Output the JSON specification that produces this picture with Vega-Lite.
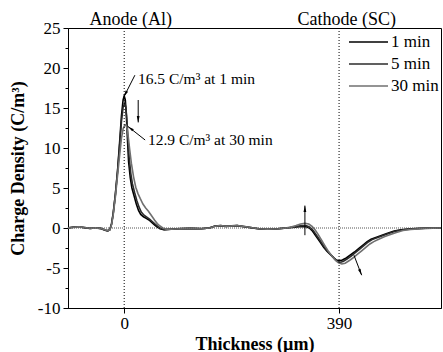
{
"$schema": "https://vega.github.io/schema/vega-lite/v6.json",
"width": 373, "height": 280,
"autosize": {"type": "none"},
"padding": {"left": 68, "top": 28, "right": 2, "bottom": 44},
"background": "white",
"config": {
  "font": "Liberation Serif",
  "view": {"stroke": "black", "strokeWidth": 1},
  "text": {"font": "Liberation Serif"},
  "legend": {"labelFont": "Liberation Serif"},
  "axis": {"grid": false, "domainColor": "black", "tickColor": "black", "labelColor": "black", "titleColor": "black", "labelFont": "Liberation Serif", "titleFont": "Liberation Serif", "labelFontSize": 17, "titleFontSize": 18, "titleFontWeight": "bold", "labelOverlap": false}
},
"datasets": {
  "curves": [
    {"t":"1 min","x":-102,"y":0},{"t":"1 min","x":-92,"y":0.1},{"t":"1 min","x":-82,"y":0.15},{"t":"1 min","x":-72,"y":0.05},{"t":"1 min","x":-62,"y":-0.05},{"t":"1 min","x":-52,"y":0},{"t":"1 min","x":-42,"y":-0.05},{"t":"1 min","x":-35,"y":-0.25},{"t":"1 min","x":-30,"y":-0.35},{"t":"1 min","x":-26,"y":-0.2},
    {"t":"1 min","x":-23,"y":0.5},{"t":"1 min","x":-20,"y":1.8},{"t":"1 min","x":-16,"y":4.2},{"t":"1 min","x":-12,"y":7.2},{"t":"1 min","x":-8,"y":11},{"t":"1 min","x":-5,"y":14},{"t":"1 min","x":-2,"y":16},{"t":"1 min","x":0,"y":16.5},{"t":"1 min","x":2,"y":16},{"t":"1 min","x":4,"y":14},{"t":"1 min","x":6,"y":11},{"t":"1 min","x":8,"y":8.3},{"t":"1 min","x":11,"y":6.3},{"t":"1 min","x":14,"y":5},{"t":"1 min","x":18,"y":4},{"t":"1 min","x":22,"y":3},{"t":"1 min","x":26,"y":2.2},{"t":"1 min","x":30,"y":1.7},{"t":"1 min","x":35,"y":1.4},{"t":"1 min","x":40,"y":1.2},{"t":"1 min","x":45,"y":1},{"t":"1 min","x":50,"y":0.7},{"t":"1 min","x":55,"y":0.4},{"t":"1 min","x":60,"y":0.1},{"t":"1 min","x":65,"y":-0.1},{"t":"1 min","x":72,"y":-0.2},
    {"t":"1 min","x":85,"y":-0.15},{"t":"1 min","x":100,"y":-0.1},{"t":"1 min","x":120,"y":-0.05},{"t":"1 min","x":140,"y":-0.1},{"t":"1 min","x":155,"y":0},{"t":"1 min","x":165,"y":0.25},{"t":"1 min","x":175,"y":0.3},{"t":"1 min","x":185,"y":0.2},{"t":"1 min","x":195,"y":0.25},{"t":"1 min","x":205,"y":0.3},{"t":"1 min","x":215,"y":0.2},{"t":"1 min","x":230,"y":0.05},{"t":"1 min","x":245,"y":-0.1},{"t":"1 min","x":260,"y":-0.15},{"t":"1 min","x":280,"y":-0.1},{"t":"1 min","x":295,"y":0},{"t":"1 min","x":310,"y":0.1},{"t":"1 min","x":322,"y":0.2},{"t":"1 min","x":330,"y":0.15},
    {"t":"1 min","x":336,"y":0},{"t":"1 min","x":342,"y":-0.4},{"t":"1 min","x":348,"y":-1},{"t":"1 min","x":355,"y":-1.7},{"t":"1 min","x":362,"y":-2.4},{"t":"1 min","x":368,"y":-2.9},{"t":"1 min","x":374,"y":-3.3},{"t":"1 min","x":380,"y":-3.7},{"t":"1 min","x":385,"y":-4},{"t":"1 min","x":390,"y":-4.1},{"t":"1 min","x":396,"y":-4},{"t":"1 min","x":403,"y":-3.75},{"t":"1 min","x":410,"y":-3.4},{"t":"1 min","x":418,"y":-3},{"t":"1 min","x":426,"y":-2.55},{"t":"1 min","x":434,"y":-2.1},{"t":"1 min","x":441,"y":-1.7},{"t":"1 min","x":448,"y":-1.4},{"t":"1 min","x":458,"y":-1.15},{"t":"1 min","x":468,"y":-0.9},{"t":"1 min","x":478,"y":-0.65},{"t":"1 min","x":490,"y":-0.38},{"t":"1 min","x":502,"y":-0.22},{"t":"1 min","x":515,"y":-0.12},{"t":"1 min","x":535,"y":-0.05},{"t":"1 min","x":555,"y":0},{"t":"1 min","x":575,"y":0},

    {"t":"5 min","x":-102,"y":0.02},{"t":"5 min","x":-92,"y":0.12},{"t":"5 min","x":-82,"y":0.12},{"t":"5 min","x":-72,"y":0.03},{"t":"5 min","x":-62,"y":-0.07},{"t":"5 min","x":-52,"y":0.02},{"t":"5 min","x":-42,"y":-0.08},{"t":"5 min","x":-35,"y":-0.28},{"t":"5 min","x":-30,"y":-0.35},{"t":"5 min","x":-26,"y":-0.2},
    {"t":"5 min","x":-23,"y":0.5},{"t":"5 min","x":-20,"y":1.8},{"t":"5 min","x":-16,"y":4.2},{"t":"5 min","x":-12,"y":7.1},{"t":"5 min","x":-8,"y":10.6},{"t":"5 min","x":-5,"y":13.3},{"t":"5 min","x":-2,"y":15.1},{"t":"5 min","x":1,"y":15.6},{"t":"5 min","x":3,"y":15.1},{"t":"5 min","x":5,"y":13.4},{"t":"5 min","x":7,"y":11},{"t":"5 min","x":9,"y":8.8},{"t":"5 min","x":12,"y":6.8},{"t":"5 min","x":15,"y":5.5},{"t":"5 min","x":19,"y":4.4},{"t":"5 min","x":23,"y":3.4},{"t":"5 min","x":27,"y":2.6},{"t":"5 min","x":31,"y":2},{"t":"5 min","x":36,"y":1.6},{"t":"5 min","x":41,"y":1.35},{"t":"5 min","x":46,"y":1.1},{"t":"5 min","x":51,"y":0.8},{"t":"5 min","x":56,"y":0.5},{"t":"5 min","x":61,"y":0.2},{"t":"5 min","x":66,"y":-0.05},{"t":"5 min","x":73,"y":-0.2},
    {"t":"5 min","x":85,"y":-0.15},{"t":"5 min","x":100,"y":-0.08},{"t":"5 min","x":120,"y":-0.05},{"t":"5 min","x":140,"y":-0.08},{"t":"5 min","x":155,"y":0.02},{"t":"5 min","x":165,"y":0.25},{"t":"5 min","x":175,"y":0.28},{"t":"5 min","x":185,"y":0.2},{"t":"5 min","x":195,"y":0.28},{"t":"5 min","x":205,"y":0.3},{"t":"5 min","x":215,"y":0.18},{"t":"5 min","x":230,"y":0.03},{"t":"5 min","x":245,"y":-0.12},{"t":"5 min","x":260,"y":-0.15},{"t":"5 min","x":280,"y":-0.08},{"t":"5 min","x":295,"y":0.02},{"t":"5 min","x":310,"y":0.15},{"t":"5 min","x":322,"y":0.3},{"t":"5 min","x":330,"y":0.3},
    {"t":"5 min","x":337,"y":0.1},{"t":"5 min","x":343,"y":-0.3},{"t":"5 min","x":349,"y":-0.9},{"t":"5 min","x":356,"y":-1.6},{"t":"5 min","x":363,"y":-2.35},{"t":"5 min","x":369,"y":-2.9},{"t":"5 min","x":375,"y":-3.35},{"t":"5 min","x":381,"y":-3.8},{"t":"5 min","x":386,"y":-4.15},{"t":"5 min","x":392,"y":-4.3},{"t":"5 min","x":398,"y":-4.15},{"t":"5 min","x":405,"y":-3.85},{"t":"5 min","x":412,"y":-3.5},{"t":"5 min","x":420,"y":-3.05},{"t":"5 min","x":428,"y":-2.6},{"t":"5 min","x":436,"y":-2.15},{"t":"5 min","x":443,"y":-1.75},{"t":"5 min","x":450,"y":-1.45},{"t":"5 min","x":460,"y":-1.2},{"t":"5 min","x":470,"y":-0.95},{"t":"5 min","x":480,"y":-0.7},{"t":"5 min","x":492,"y":-0.42},{"t":"5 min","x":504,"y":-0.25},{"t":"5 min","x":517,"y":-0.14},{"t":"5 min","x":537,"y":-0.06},{"t":"5 min","x":557,"y":0},{"t":"5 min","x":575,"y":0},

    {"t":"30 min","x":-102,"y":0},{"t":"30 min","x":-92,"y":0.08},{"t":"30 min","x":-82,"y":0.14},{"t":"30 min","x":-72,"y":0.06},{"t":"30 min","x":-62,"y":-0.04},{"t":"30 min","x":-52,"y":0.01},{"t":"30 min","x":-42,"y":-0.06},{"t":"30 min","x":-35,"y":-0.22},{"t":"30 min","x":-30,"y":-0.32},{"t":"30 min","x":-26,"y":-0.22},
    {"t":"30 min","x":-23,"y":0.4},{"t":"30 min","x":-20,"y":1.6},{"t":"30 min","x":-16,"y":3.9},{"t":"30 min","x":-12,"y":6.6},{"t":"30 min","x":-8,"y":9.3},{"t":"30 min","x":-5,"y":11.2},{"t":"30 min","x":-2,"y":12.4},{"t":"30 min","x":1,"y":12.85},{"t":"30 min","x":3,"y":12.9},{"t":"30 min","x":5,"y":12.5},{"t":"30 min","x":7,"y":11.6},{"t":"30 min","x":10,"y":9.8},{"t":"30 min","x":13,"y":8.1},{"t":"30 min","x":17,"y":6.4},{"t":"30 min","x":21,"y":5.1},{"t":"30 min","x":25,"y":4.3},{"t":"30 min","x":29,"y":3.7},{"t":"30 min","x":34,"y":3},{"t":"30 min","x":39,"y":2.5},{"t":"30 min","x":44,"y":2.1},{"t":"30 min","x":50,"y":1.5},{"t":"30 min","x":55,"y":1},{"t":"30 min","x":60,"y":0.55},{"t":"30 min","x":65,"y":0.25},{"t":"30 min","x":70,"y":0},{"t":"30 min","x":76,"y":-0.15},
    {"t":"30 min","x":86,"y":-0.15},{"t":"30 min","x":100,"y":-0.1},{"t":"30 min","x":120,"y":-0.04},{"t":"30 min","x":140,"y":-0.1},{"t":"30 min","x":155,"y":0.0},{"t":"30 min","x":165,"y":0.22},{"t":"30 min","x":175,"y":0.32},{"t":"30 min","x":185,"y":0.22},{"t":"30 min","x":195,"y":0.26},{"t":"30 min","x":205,"y":0.32},{"t":"30 min","x":215,"y":0.22},{"t":"30 min","x":230,"y":0.06},{"t":"30 min","x":245,"y":-0.1},{"t":"30 min","x":260,"y":-0.14},{"t":"30 min","x":280,"y":-0.1},{"t":"30 min","x":300,"y":0.05},
    {"t":"30 min","x":312,"y":0.3},{"t":"30 min","x":320,"y":0.5},{"t":"30 min","x":328,"y":0.6},{"t":"30 min","x":335,"y":0.5},{"t":"30 min","x":341,"y":0.2},{"t":"30 min","x":346,"y":-0.2},{"t":"30 min","x":352,"y":-0.8},{"t":"30 min","x":358,"y":-1.5},{"t":"30 min","x":365,"y":-2.3},{"t":"30 min","x":371,"y":-2.95},{"t":"30 min","x":377,"y":-3.5},{"t":"30 min","x":383,"y":-4},{"t":"30 min","x":389,"y":-4.35},{"t":"30 min","x":395,"y":-4.5},{"t":"30 min","x":401,"y":-4.4},{"t":"30 min","x":408,"y":-4.1},{"t":"30 min","x":415,"y":-3.75},{"t":"30 min","x":423,"y":-3.3},{"t":"30 min","x":431,"y":-2.85},{"t":"30 min","x":439,"y":-2.4},{"t":"30 min","x":446,"y":-2},{"t":"30 min","x":453,"y":-1.7},{"t":"30 min","x":462,"y":-1.4},{"t":"30 min","x":472,"y":-1.1},{"t":"30 min","x":482,"y":-0.85},{"t":"30 min","x":494,"y":-0.55},{"t":"30 min","x":506,"y":-0.32},{"t":"30 min","x":520,"y":-0.18},{"t":"30 min","x":540,"y":-0.08},{"t":"30 min","x":560,"y":-0.02},{"t":"30 min","x":575,"y":0}
  ],
  "arrows": [
    {"x":19.4,"y":19.1,"x2":-0.5,"y2":16.4,"dir":207},
    {"x":38,"y":11,"x2":6.7,"y2":12.7,"dir":307},
    {"x":25.4,"y":16,"x2":25.4,"y2":13.2,"dir":180},
    {"x":328,"y":-0.9,"x2":328,"y2":2.8,"dir":0},
    {"x":417,"y":-3.4,"x2":431,"y2":-5.9,"dir":158}
  ],
  "places": [
    {"x":12,"y":26,"label":"Anode (Al)"},
    {"x":404,"y":26,"label":"Cathode (SC)"}
  ],
  "notes": [
    {"x":25,"y":18.6,"label":"16.5 C/m³ at 1 min"},
    {"x":43,"y":11,"label":"12.9 C/m³ at 30 min"}
  ]
},
"layer": [
  {
    "data": {"name": "curves"},
    "mark": {"type": "line", "strokeWidth": 1.6},
    "encoding": {
      "x": {"field": "x", "type": "quantitative", "scale": {"domain": [-102, 575], "nice": false, "zero": false},
        "axis": {"values": [0, 390], "tickCount": 10, "tickSize": 5, "labelPadding": 2, "labelFont": "Liberation Serif", "titleFont": "Liberation Serif", "title": "Thickness (µm)", "titlePadding": 4}},
      "y": {"field": "y", "type": "quantitative", "scale": {"domain": [-10, 25], "nice": false, "zero": false},
        "axis": {"values": [-10, -7.5, -5, -2.5, 0, 2.5, 5, 7.5, 10, 12.5, 15, 17.5, 20, 22.5, 25],
          "tickCount": 20,
          "labelExpr": "datum.value % 5 === 0 ? (datum.value < 0 ? '-' + abs(datum.value) : '' + datum.value) : ''",
          "labelOverlap": false, "labelFont": "Liberation Serif", "titleFont": "Liberation Serif",
          "tickSize": {"condition": {"test": "datum.value % 5 === 0", "value": 5}, "value": 3},
          "labelPadding": 3, "title": "Charge Density (C/m³)", "titlePadding": 10}},
      "color": {"field": "t", "type": "nominal",
        "scale": {"domain": ["1 min", "5 min", "30 min"], "range": ["#000000", "#2b2b2b", "#707070"]},
        "legend": {"orient": "none", "legendX": 280, "legendY": 3, "title": null, "symbolType": "stroke", "symbolSize": 1521, "symbolStrokeWidth": 1.5, "labelFont": "Liberation Serif", "labelFontSize": 17, "labelColor": "black", "labelOffset": 2, "clipHeight": 22, "rowPadding": 0, "padding": 0}}
    }
  },
  {
    "data": {"values": [{"x": 0}, {"x": 390}]},
    "mark": {"type": "rule", "color": "black", "strokeWidth": 1, "strokeDash": [1, 2]},
    "encoding": {"x": {"field": "x", "type": "quantitative"}}
  },
  {
    "data": {"values": [{"y": 0}]},
    "mark": {"type": "rule", "color": "#555", "strokeWidth": 1, "strokeDash": [1, 1]},
    "encoding": {"y": {"field": "y", "type": "quantitative"}}
  },
  {
    "data": {"name": "places"},
    "mark": {"type": "text", "baseline": "middle", "align": "center", "color": "black", "fontSize": 18, "font": "Liberation Serif"},
    "encoding": {
      "x": {"field": "x", "type": "quantitative"},
      "y": {"field": "y", "type": "quantitative"},
      "text": {"field": "label"}
    }
  },
  {
    "data": {"name": "notes"},
    "mark": {"type": "text", "baseline": "middle", "align": "left", "color": "black", "fontSize": 15.5, "font": "Liberation Serif"},
    "encoding": {
      "x": {"field": "x", "type": "quantitative"},
      "y": {"field": "y", "type": "quantitative"},
      "text": {"field": "label"}
    }
  },
  {
    "data": {"name": "arrows"},
    "mark": {"type": "rule", "color": "black", "strokeWidth": 1},
    "encoding": {
      "x": {"field": "x", "type": "quantitative"},
      "y": {"field": "y", "type": "quantitative"},
      "x2": {"field": "x2"},
      "y2": {"field": "y2"}
    }
  },
  {
    "data": {"name": "arrows"},
    "mark": {"type": "point", "filled": true, "color": "black", "shape": "M0,0L-0.35,1.6L0.35,1.6Z", "size": 64, "opacity": 1, "strokeWidth": 0},
    "encoding": {
      "x": {"field": "x2", "type": "quantitative"},
      "y": {"field": "y2", "type": "quantitative"},
      "angle": {"field": "dir", "type": "quantitative", "scale": null}
    }
  }
]
}
